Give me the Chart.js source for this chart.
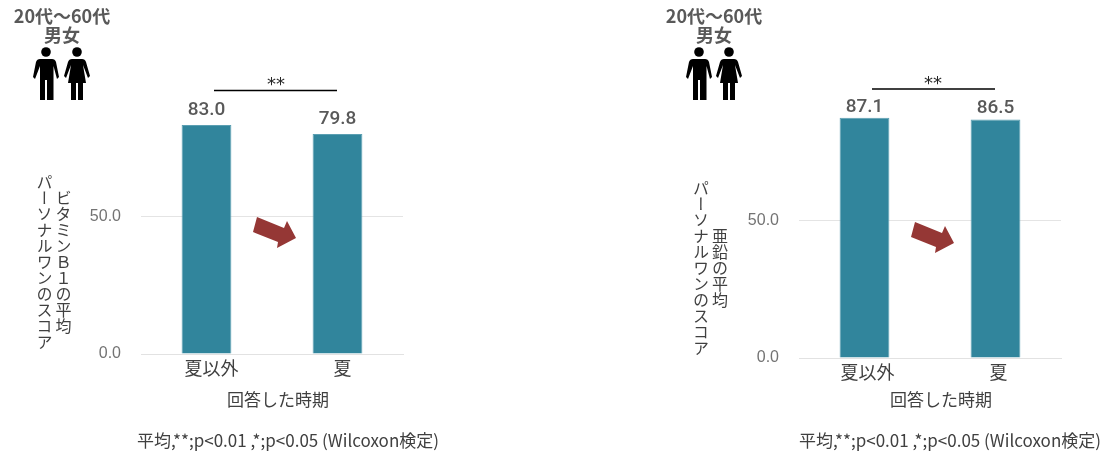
<!DOCTYPE html>
<html lang="ja">
<head>
  <meta charset="UTF-8">
  <title>パーソナルワンのスコア</title>
  <style>
    html, body { margin: 0; padding: 0; background: #fff; }
    body { width: 1116px; height: 461px; position: relative; overflow: hidden; font-family: "Noto Sans CJK JP", sans-serif; }
    canvas { position: absolute; top: 0; }
    svg { position: absolute; left: 0; top: 0; }
    .note { position: absolute; white-space: nowrap; transform: translate(-50%, -50%); color: #404040; }
    .group { font-size: 18px; font-weight: 700; line-height: 19px; text-align: center; color: #595959; }
    .ytitle { writing-mode: vertical-rl; font-size: 16px; line-height: 19px; text-align: center; }
    .xtitle { font-size: 17px; }
    .foot { font-size: 17px; }
    .stars { font-family: "DejaVu Sans"; font-size: 18px; color: #262626; }
  </style>
</head>
<body>
  <canvas id="chartB1" width="558" height="461" style="left:0"></canvas>
  <canvas id="chartZinc" width="558" height="461" style="left:558px"></canvas>

  <svg width="1116" height="461">
    <defs>
      <g id="man"><circle cx="13" cy="5" r="4.8"/><path d="M7 12H19Q22 12 23 15L26 30 24 32 20.5 19V53H14V33H12V53H7V19L2 32 0 30 3 15Q4 12 7 12Z"/></g>
      <g id="woman"><circle cx="13" cy="5" r="4.8"/><path d="M8 12H18Q21 12 22 15L26 29 24 31 19 18 22 36H19V53H14V36H12V53H7V36H4L7 18 2 31 0 29 4 15Q5 12 8 12Z"/></g>
      <path id="arrow" fill="#953735" d="M257 217L253 232 278 242 277 248 296 238 287 221 284 228Z"/>
    </defs>
    <use href="#man" x="33" y="47"/><use href="#woman" x="64" y="47"/>
    <use href="#man" x="686" y="47"/><use href="#woman" x="716" y="47"/>
    <use href="#arrow"/><use href="#arrow" x="658" y="5"/>
    <line x1="214" y1="90.5" x2="337" y2="90.5" stroke="#000" stroke-width="1.3"/>
    <line x1="872" y1="89" x2="995" y2="89" stroke="#000" stroke-width="1.3"/>
  </svg>

  <div class="note group" style="left:62px;top:25px">20代～60代<br>男女</div>
  <div class="note group" style="left:714px;top:25px">20代～60代<br>男女</div>
  <div class="note stars" style="left:276px;top:83px">**</div>
  <div class="note stars" style="left:933px;top:82px">**</div>
  <div class="note ytitle" style="left:53.5px;top:262px">ビタミンＢ１の平均<br>パーソナルワンのスコア</div>
  <div class="note ytitle" style="left:710px;top:268px">亜鉛の平均<br>パーソナルワンのスコア</div>
  <div class="note xtitle" style="left:278px;top:398px">回答した時期</div>
  <div class="note xtitle" style="left:941px;top:398px">回答した時期</div>
  <div class="note foot" style="left:288px;top:439px">平均,**;p&lt;0.01 ,*;p&lt;0.05 (Wilcoxon検定)</div>
  <div class="note foot" style="left:950px;top:439px">平均,**;p&lt;0.01 ,*;p&lt;0.05 (Wilcoxon検定)</div>

  <script src="https://cdn.jsdelivr.net/npm/chart.js"></script>
  <script>
    const categories = ['夏以外', '夏'];
    const b1Values = [83.0, 79.8];
    const zincValues = [87.1, 86.5];
    const yTickStep = 50;

    // draws the value above each bar
    const valueLabels = {
      id: 'valueLabels',
      afterDatasetsDraw(chart, args, opts) {
        const ctx = chart.ctx;
        ctx.save();
        ctx.font = '500 19px Roboto';
        ctx.fillStyle = '#595959';
        ctx.textAlign = 'center';
        ctx.textBaseline = 'middle';
        chart.getDatasetMeta(0).data.forEach((bar, i) => {
          ctx.fillText(chart.data.datasets[0].data[i].toFixed(1), bar.x, bar.y - opts.gap);
        });
        ctx.restore();
      }
    };

    function drawChart(id, values, pad, gap, labelShift) {
      new Chart(document.getElementById(id), {
        type: 'bar',
        data: {
          labels: categories,
          datasets: [{ data: values, backgroundColor: '#31859C', borderColor: '#5b9fb2', borderWidth: 1, barPercentage: 0.38, categoryPercentage: 1 }]
        },
        options: {
          responsive: false,
          animation: false,
          layout: { padding: pad },
          plugins: { legend: { display: false }, tooltip: { enabled: false }, valueLabels: { gap: gap } },
          scales: {
            x: {
              grid: { display: false, drawTicks: false },
              border: { color: '#e2e2e2' },
              afterFit(scale) { scale.height = 60; },
              ticks: { color: '#404040', font: { family: 'Noto Sans CJK JP', size: 18 }, padding: 3, labelOffset: labelShift, maxRotation: 0 }
            },
            y: {
              min: 0,
              max: 95,
              grid: { color: '#e4e4e4', drawTicks: false },
              border: { display: false },
              afterFit(scale) { scale.width = 60; },
              ticks: { stepSize: yTickStep, includeBounds: false, color: '#737373', font: { family: 'Liberation Sans', size: 16 }, padding: 20, callback: v => v.toFixed(1) }
            }
          }
        },
        plugins: [valueLabels]
      });
    }

    drawChart('chartB1', b1Values, { left: 81, right: 155, top: 92, bottom: 47 }, 15, 5);
    drawChart('chartZinc', zincValues, { left: 181, right: 55, top: 96, bottom: 43 }, 11, 3);
  </script>
</body>
</html>
